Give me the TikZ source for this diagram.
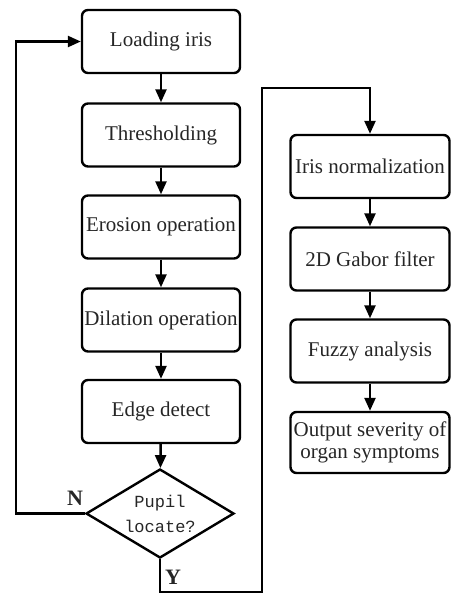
\documentclass[tikz,border=0pt]{standalone}
\usepackage{fontspec}
\setmainfont{Liberation Serif}
\newfontfamily\monofnt{Liberation Mono}
\usetikzlibrary{arrows.meta,shapes.geometric}
\definecolor{txt}{HTML}{262626}
\begin{document}
\begin{tikzpicture}[x=1pt,y=-1pt,
  stepbox/.style={draw=black,line width=2.4pt,rounded corners=6pt,minimum width=158pt,minimum height=63pt,
    inner sep=1pt,align=center,text=txt,font=\fontsize{21}{22}\selectfont},
  decbox/.style={draw=black,line width=2.4pt,shape=diamond,aspect=1.66,minimum width=148pt,minimum height=89pt,
    inner sep=0pt,align=center,text=txt,font=\monofnt\fontsize{17}{25}\selectfont},
  conn/.style={line width=2.4pt,-{Triangle[length=13pt,width=11pt]}},
  yn/.style={font=\bfseries\fontsize{22}{22}\selectfont,text=txt,inner sep=0pt}]
\useasboundingbox (0,0) rectangle (452,595);
% left column
\node[stepbox] (load) at (161,41.5) {Loading iris};
\node[stepbox] (thr) at (161,135) {Thresholding};
\node[stepbox] (ero) at (161,227) {Erosion operation};
\node[stepbox] (dil) at (161,320) {Dilation operation};
\node[stepbox] (edge) at (161,411.5) {Edge detect};
\node[decbox] (dec) at (160,513.5) {Pupil\\locate?};
% right column
\node[stepbox,minimum width=159pt] (norm) at (370,166.5) {Iris normalization};
\node[stepbox,minimum width=159pt] (gab) at (370,259) {2D Gabor filter};
\node[stepbox,minimum width=159pt] (fuz) at (370,351) {Fuzzy analysis};
\node[stepbox,minimum width=159pt,minimum height=61pt] (out) at (370,442.5) {Output severity of\\organ symptoms};
% labels
\node[yn] (nl) at (75,498) {N};
\node[yn] (yl) at (173,577) {Y};
% helper coordinates
\coordinate (nA) at (16,513.5);
\coordinate (nB) at (16,41.5);
\coordinate (yA) at (160,592);
\coordinate (yB) at (262,592);
\coordinate (yC) at (262,88);
\coordinate (yD) at (370,88);
% connectors
\draw[conn] (load) -- (thr);
\draw[conn] (thr) -- (ero);
\draw[conn] (ero) -- (dil);
\draw[conn] (dil) -- (edge);
\draw[conn] (edge) -- (dec);
\draw[conn] (dec.west) -- (nA) -- (nB) -- (load.west);
\draw[conn] (dec.south) -- (yA) -- (yB) -- (yC) -- (yD) -- (norm.north);
\draw[conn] (norm) -- (gab);
\draw[conn] (gab) -- (fuz);
\draw[conn] (fuz) -- (out);
\end{tikzpicture}
\end{document}
